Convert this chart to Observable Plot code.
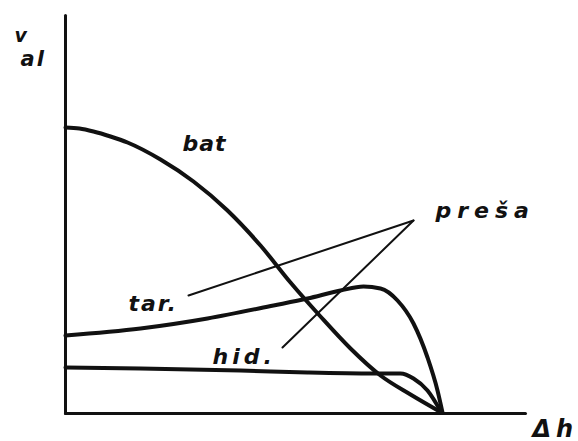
<!DOCTYPE html>
<html>
<head>
<meta charset="utf-8">
<script src="https://cdn.jsdelivr.net/npm/d3@7"></script>
<script src="https://cdn.jsdelivr.net/npm/@observablehq/plot@0.6"></script>
<style>
  html, body { margin: 0; padding: 0; background: #fff; }
  svg { display: block; }
</style>
</head>
<body>
<div id="chart"></div>
<script>
// Curves (x = Δh, y = v_al), arbitrary units
const batCurve = [[0,286],[14,285],[28,282],[45,277],[62,271],[95,254],[128,232],[162,203],[195,168],[225,131],[255,97],[285,65],[315,38],[345,19],[376,1]];
const tarCurve = [[0,78],[75,85],[142,95],[208,108],[242,115],[275,123],[298,127],[315,125],[332,113],[348,90],[362,56],[372,23],[377,1]];
const hidCurve = [[0,46],[75,45],[175,43],[242,41],[308,40],[335,40],[348,35],[362,23],[376,1]];

// Leader lines from "preša" label
const tarLeader = [[123,118],[348,193]];
const hidLeader = [[217,66],[348,193]];

// Axis extents
const xAxisLine = [[0,0],[460,0]];
const yAxisLine = [[0,0],[0,398]];

// Labels
const curveLabels = [
  {text: "bat", x: 117, y: 263, ls: 1},
  {text: "tar.", x: 63, y: 103, ls: 2},
  {text: "hid.", x: 147, y: 50, ls: 4},
  {text: "preša", x: 370, y: 196, ls: 6}
];
const axisLabels = [
  {text: "Δh", x: 467, y: -23, ls: 5}
];
// y-axis label: "v" with subscript "al"
const yLabelMain = [{text: "v", x: -51, y: 372, size: 19, ls: 0}];
const yLabelSub = [{text: "al", x: -45, y: 348, size: 21, ls: 2}];

const ink = "#111";
const font = "DejaVu Sans";

const lineOpts = (w) => ({x: d => d[0], y: d => d[1], stroke: ink, strokeWidth: w, strokeLinecap: "round", strokeLinejoin: "round"});
const textOpts = (size) => ({x: "x", y: "y", text: "text", textAnchor: "start", lineAnchor: "bottom", fontSize: size, fontStyle: "italic", fontWeight: "bold", fill: ink});

const plot = Plot.plot({
  width: 578,
  height: 441,
  marginLeft: 65,
  marginRight: 53,
  marginTop: 15,
  marginBottom: 28,
  x: {domain: [0, 460], axis: null},
  y: {domain: [0, 398], axis: null},
  style: {background: "#fff", fontFamily: font},
  marks: [
    Plot.line(xAxisLine, lineOpts(3)),
    Plot.line(yAxisLine, lineOpts(3)),
    Plot.line(tarLeader, lineOpts(2)),
    Plot.line(hidLeader, lineOpts(2)),
    Plot.line(batCurve, {...lineOpts(4), curve: "monotone-x"}),
    Plot.line(tarCurve, {...lineOpts(4), curve: "monotone-x"}),
    Plot.line(hidCurve, {...lineOpts(4), curve: "monotone-x"}),
    Plot.text(curveLabels, textOpts(22)),
    Plot.text(axisLabels, textOpts(24)),
    Plot.text(yLabelMain, textOpts(19)),
    Plot.text(yLabelSub, textOpts(21))
  ]
});

// letter spacing for labels
const allLabels = curveLabels.concat(axisLabels, yLabelMain, yLabelSub);
d3.select(plot).selectAll("text").each(function() {
  const t = this.textContent;
  const lab = allLabels.find(l => l.text === t);
  if (lab) this.setAttribute("letter-spacing", lab.ls);
});

document.getElementById("chart").appendChild(plot);
</script>
</body>
</html>
